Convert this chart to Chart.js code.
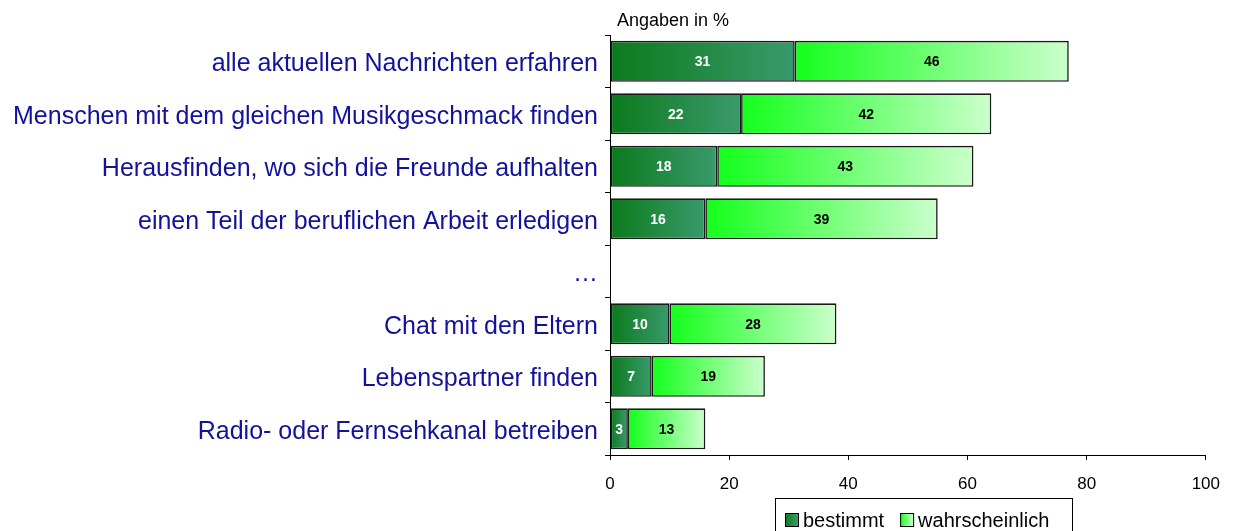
<!DOCTYPE html>
<html>
<head>
<meta charset="utf-8">
<script src="https://cdn.jsdelivr.net/npm/chart.js@4.4.1/dist/chart.umd.min.js"></script>
<style>
  html, body { margin: 0; padding: 0; background: #ffffff; }
  #wrap { width: 1234px; height: 531px; position: relative; }
</style>
</head>
<body>
<div id="wrap"><canvas id="c" width="1234" height="531"></canvas></div>
<script>
const categories = [
  'alle aktuellen Nachrichten erfahren',
  'Menschen mit dem gleichen Musikgeschmack finden',
  'Herausfinden, wo sich die Freunde aufhalten',
  'einen Teil der beruflichen Arbeit erledigen',
  '…',
  'Chat mit den Eltern',
  'Lebenspartner finden',
  'Radio- oder Fernsehkanal betreiben'
];
const bestimmt = [31, 22, 18, 16, null, 10, 7, 3];
const wahrscheinlich = [46, 42, 43, 39, null, 28, 19, 13];
const xTicks = [0, 20, 40, 60, 80, 100];
const seriesNames = ['bestimmt', 'wahrscheinlich'];
const unitNote = 'Angaben in %';

const FONT = "'Liberation Sans', Arial, sans-serif";
const gradStops = [
  ['#0b7a1c', '#3a9a6c'],
  ['#14ff1c', '#ccffcc']
];

function barGradient(ctx) {
  const chart = ctx.chart;
  const ds = ctx.datasetIndex;
  if (ctx.type !== 'data' || !chart.chartArea) return gradStops[ds][0];
  const i = ctx.dataIndex;
  let start = 0;
  for (let k = 0; k < ds; k++) start += chart.data.datasets[k].data[i] || 0;
  const v = chart.data.datasets[ds].data[i] || 0;
  const xs = chart.scales.x;
  const x0 = xs.getPixelForValue(start), x1 = xs.getPixelForValue(start + v);
  const g = chart.ctx.createLinearGradient(x0, 0, Math.max(x1, x0 + 1), 0);
  g.addColorStop(0, gradStops[ds][0]);
  g.addColorStop(1, gradStops[ds][1]);
  return g;
}

const extras = {
  id: 'extras',
  afterDatasetsDraw(chart) {
    const c = chart.ctx;
    c.save();
    // value labels
    c.font = 'bold 14px ' + FONT;
    c.textAlign = 'center';
    c.textBaseline = 'middle';
    chart.data.datasets.forEach((d, di) => {
      const meta = chart.getDatasetMeta(di);
      meta.data.forEach((el, i) => {
        const v = d.data[i];
        if (v == null) return;
        c.fillStyle = di === 0 ? '#ffffff' : '#000000';
        c.fillText(String(v), (el.x + el.base) / 2, el.y + 1);
      });
    });
    // unit note
    c.font = '18px ' + FONT;
    c.textAlign = 'left';
    c.textBaseline = 'alphabetic';
    c.fillStyle = '#000000';
    c.fillText(unitNote, chart.chartArea.left + 7, 26);
    // legend
    const bx = 775, by = 498, bw = 297, bh = 40;
    c.fillStyle = '#ffffff';
    c.fillRect(bx, by, bw, bh);
    c.strokeStyle = '#000000';
    c.lineWidth = 1;
    c.strokeRect(bx + 0.5, by + 0.5, bw, bh);
    c.font = '20px ' + FONT;
    let x = 785;
    seriesNames.forEach((name, k) => {
      const g = c.createLinearGradient(x, 0, x + 13, 0);
      g.addColorStop(0, gradStops[k][0]);
      g.addColorStop(1, gradStops[k][1]);
      c.fillStyle = g;
      c.fillRect(x, 513, 13, 13);
      c.strokeStyle = '#000000';
      c.strokeRect(x + 0.5, 513.5, 13, 13);
      c.fillStyle = '#000000';
      c.fillText(name, x + 18, 527);
      x += 18 + c.measureText(name).width + 16;
    });
    c.restore();
  }
};

new Chart(document.getElementById('c'), {
  type: 'bar',
  data: {
    labels: categories,
    datasets: [
      { label: seriesNames[0], data: bestimmt, backgroundColor: barGradient },
      { label: seriesNames[1], data: wahrscheinlich, backgroundColor: barGradient }
    ]
  },
  options: {
    indexAxis: 'y',
    responsive: false,
    animation: false,
    events: [],
    layout: { padding: { left: 0, right: 28, top: 35, bottom: 0 } },
    datasets: {
      bar: {
        borderColor: '#1a1a1a',
        borderWidth: 1.6,
        borderSkipped: false,
        categoryPercentage: 1,
        barPercentage: 0.78
      }
    },
    plugins: { legend: { display: false }, tooltip: { enabled: false } },
    scales: {
      x: {
        stacked: true,
        min: 0,
        max: 100,
        afterBuildTicks(scale) { scale.ticks = xTicks.map(v => ({ value: v })); },
        afterFit(scale) { scale.height = 76; },
        grid: { drawOnChartArea: false, drawTicks: true, tickLength: 5, color: '#000000' },
        border: { display: true, color: '#000000', width: 1 },
        ticks: { color: '#000000', font: { family: FONT, size: 17 }, padding: 14, maxRotation: 0 }
      },
      y: {
        stacked: true,
        afterFit(scale) { scale.width = 610; },
        grid: { drawOnChartArea: false, drawTicks: true, tickLength: 5, color: '#000000', offset: true },
        border: { display: true, color: '#000000', width: 1 },
        ticks: { color: '#12129c', font: { family: FONT, size: 25 }, padding: 7, autoSkip: false, labelOffset: 3 }
      }
    }
  },
  plugins: [extras]
});
</script>
</body>
</html>
